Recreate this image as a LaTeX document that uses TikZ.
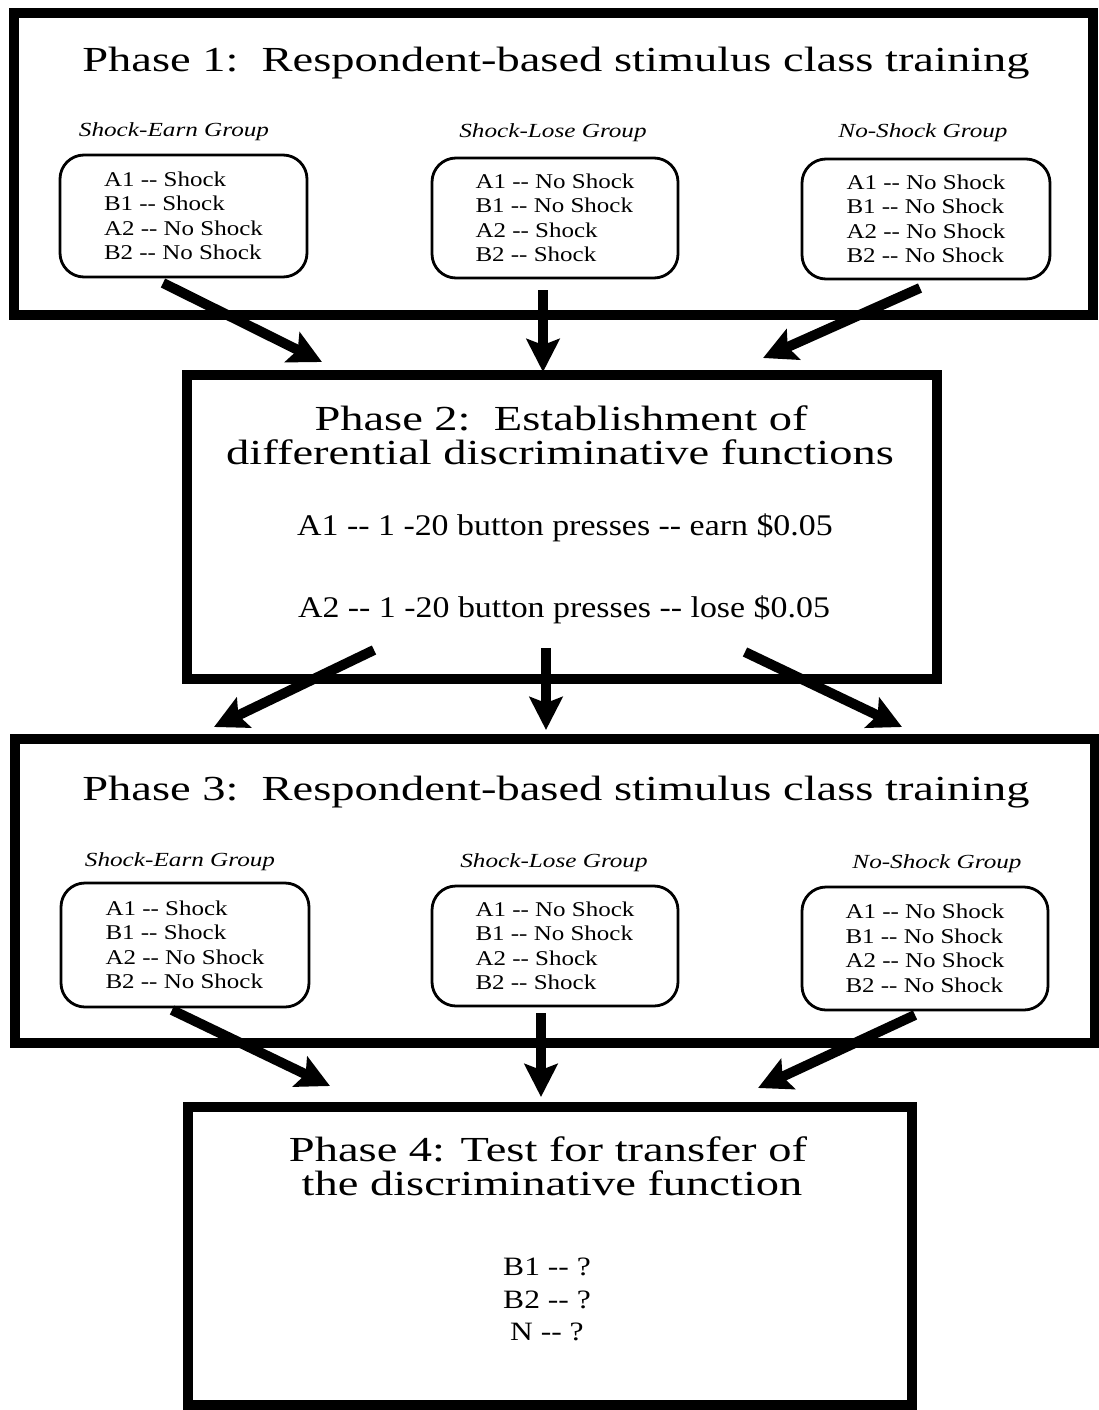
\documentclass[tikz,border=0pt]{standalone}
\usepackage{fontspec}
\setmainfont{Liberation Serif}
\newfontfamily\phasefont[FakeStretch=1.32]{Liberation Serif}
\newfontfamily\stimfont[FakeStretch=1.19]{Liberation Serif}
\newfontfamily\pressfont[FakeStretch=1.13]{Liberation Serif}
\newfontfamily\grplabfont[FakeStretch=1.26]{Liberation Serif}
\usetikzlibrary{arrows.meta}

\begin{document}
\begin{tikzpicture}[x=1pt, y=-1pt,
        phasebox/.style={draw, line width=10pt, inner sep=0pt},
        groupbox/.style={draw, line width=2.8pt, rounded corners=24pt, align=left,
            inner sep=0pt, font=\stimfont\fontsize{21}{24.5}\selectfont},
        phasetitle/.style={anchor=base, inner sep=0pt,
            font=\phasefont\fontsize{35.2}{33}\selectfont},
        presses/.style={anchor=base, inner sep=0pt,
            font=\pressfont\fontsize{30}{30}\selectfont},
        testline/.style={anchor=base, inner sep=0pt,
            font=\stimfont\fontsize{26.5}{26}\selectfont},
        grplabel/.style={anchor=base, inner sep=0pt,
            font=\grplabfont\itshape\fontsize{20}{20}\selectfont},
        flow/.style={line width=10pt, -{Stealth[length=33pt, width=33pt, inset=6pt]}}]
    \useasboundingbox (0,0) rectangle (1098,1410);

    % the four phases
    \node[phasebox, minimum width=1079, minimum height=302] (ph1) at (553.5,164) {};
    \node[phasebox, minimum width=750, minimum height=304] (ph2) at (562,527) {};
    \node[phasebox, minimum width=1080, minimum height=304] (ph3) at (555,891) {};
    \node[phasebox, minimum width=724, minimum height=298] (ph4) at (550,1256) {};

    % phase 1
    \node[phasetitle] (t1) at (556,72) {Phase 1:\ \ Respondent-based stimulus class training};
    \node[grplabel] (l1a) at (174,136) {Shock-Earn Group};
    \node[grplabel] (l1b) at (553,138) {Shock-Lose Group};
    \node[grplabel] (l1c) at (923,137) {No-Shock Group};
    \node[groupbox, minimum width=247, minimum height=122] (g1a) at (183.5,216)
        {A1 -{}- Shock\\ B1 -{}- Shock\\ A2 -{}- No Shock\\ B2 -{}- No Shock};
    \node[groupbox, minimum width=246, minimum height=120] (g1b) at (555,218)
        {A1 -{}- No Shock\\ B1 -{}- No Shock\\ A2 -{}- Shock\\ B2 -{}- Shock};
    \node[groupbox, minimum width=248, minimum height=120] (g1c) at (926,219)
        {A1 -{}- No Shock\\ B1 -{}- No Shock\\ A2 -{}- No Shock\\ B2 -{}- No Shock};

    % phase 2
    \node[phasetitle] (t2a) at (561,430) {Phase 2:\ \ Establishment of};
    \node[phasetitle] (t2b) at (560,464) {differential discriminative functions};
    \node[presses] (p2a) at (565,535) {A1 -{}- 1 -20 button presses -{}- earn \$0.05};
    \node[presses] (p2b) at (564,617) {A2 -{}- 1 -20 button presses -{}- lose \$0.05};

    % phase 3
    \node[phasetitle] (t3) at (556,800) {Phase 3:\ \ Respondent-based stimulus class training};
    \node[grplabel] (l3a) at (180,866) {Shock-Earn Group};
    \node[grplabel] (l3b) at (554,867) {Shock-Lose Group};
    \node[grplabel] (l3c) at (937,868) {No-Shock Group};
    \node[groupbox, minimum width=248, minimum height=124] (g3a) at (185,945)
        {A1 -{}- Shock\\ B1 -{}- Shock\\ A2 -{}- No Shock\\ B2 -{}- No Shock};
    \node[groupbox, minimum width=246, minimum height=120] (g3b) at (555,946)
        {A1 -{}- No Shock\\ B1 -{}- No Shock\\ A2 -{}- Shock\\ B2 -{}- Shock};
    \node[groupbox, minimum width=246, minimum height=123] (g3c) at (925,948.5)
        {A1 -{}- No Shock\\ B1 -{}- No Shock\\ A2 -{}- No Shock\\ B2 -{}- No Shock};

    % phase 4
    \node[phasetitle] (t4a) at (548,1161) {Phase 4: Test for transfer of};
    \node[phasetitle] (t4b) at (552,1195) {the discriminative function};
    \node[testline] (q1) at (547,1275) {B1 -{}- ?};
    \node[testline] (q2) at (547,1308) {B2 -{}- ?};
    \node[testline] (q3) at (547,1340) {N -{}- ?};

    % arrow ends
    \coordinate (a1s) at (163,283);
    \coordinate (a1e) at (322,362);
    \coordinate (a2s) at (543,290);
    \coordinate (a2e) at (543,372);
    \coordinate (a3s) at (920,288);
    \coordinate (a3e) at (763,358);
    \coordinate (b1s) at (374,650);
    \coordinate (b1e) at (214,727);
    \coordinate (b2s) at (546,648);
    \coordinate (b2e) at (546,730);
    \coordinate (b3s) at (745,652);
    \coordinate (b3e) at (902,727);
    \coordinate (c1s) at (172,1010);
    \coordinate (c1e) at (330,1086);
    \coordinate (c2s) at (541,1013);
    \coordinate (c2e) at (541,1097);
    \coordinate (c3s) at (915,1015);
    \coordinate (c3e) at (758,1088);

    \draw[flow]
        (a1s) -- (a1e);
    \draw[flow]
        (a2s) -- (a2e);
    \draw[flow]
        (a3s) -- (a3e);
    \draw[flow]
        (b1s) -- (b1e);
    \draw[flow]
        (b2s) -- (b2e);
    \draw[flow]
        (b3s) -- (b3e);
    \draw[flow]
        (c1s) -- (c1e);
    \draw[flow]
        (c2s) -- (c2e);
    \draw[flow]
        (c3s) -- (c3e);
\end{tikzpicture}
\end{document}
